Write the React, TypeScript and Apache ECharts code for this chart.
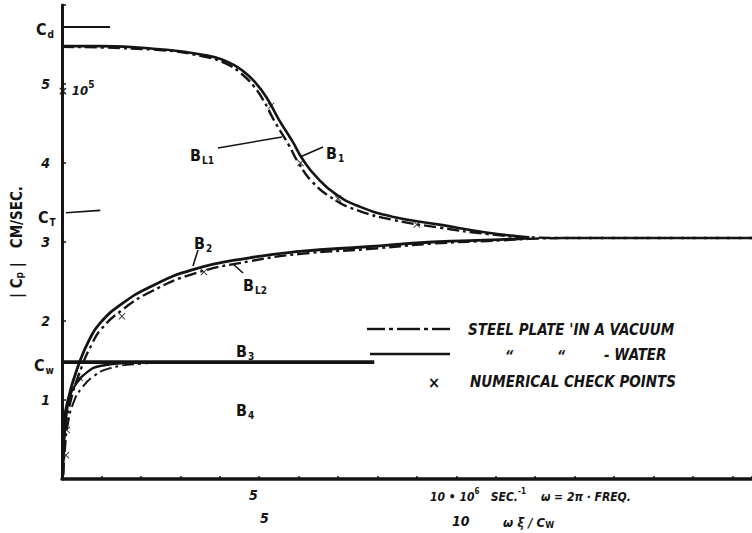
import React, { useEffect, useRef } from "react";
import * as echarts from "echarts";

// ---- data (x: frequency scale units, y: |Cp| in 10^5 cm/sec) ----
const B1_WATER: number[][] = [
  [0, 5.48], [1.0, 5.48], [2.48, 5.44], [3.57, 5.37], [4.2, 5.28], [4.6, 5.16], [4.9, 5.02],
  [5.2, 4.82], [5.5, 4.55], [5.85, 4.27], [6.1, 4.05], [6.46, 3.82], [6.96, 3.6],
  [7.54, 3.45], [8.38, 3.32], [9.57, 3.22], [10.76, 3.12], [11.6, 3.07], [11.85, 3.06],
];
const BL1_VACUUM: number[][] = [
  [0, 5.47], [2.48, 5.43], [3.57, 5.35], [4.15, 5.26], [4.55, 5.13], [4.85, 4.98], [5.1, 4.8],
  [5.4, 4.52], [5.75, 4.23], [6.0, 4.0], [6.35, 3.76], [6.9, 3.54], [7.5, 3.4],
  [8.4, 3.28], [9.6, 3.18], [10.8, 3.1], [11.85, 3.06], [13, 3.05], [15, 3.05], [17.5, 3.05],
];
const B2_WATER: number[][] = [
  [0.02, 0.05], [0.05, 0.62], [0.15, 1.0], [0.46, 1.5], [0.71, 1.78], [0.96, 1.97],
  [1.47, 2.2], [2.23, 2.43], [3.32, 2.65], [4.76, 2.8], [6.03, 2.88], [7.72, 2.94],
  [9.39, 3.0], [11.1, 3.03], [11.85, 3.05],
];
const BL2_VACUUM: number[][] = [
  [0.03, 0.05], [0.08, 0.55], [0.2, 0.95], [0.5, 1.42], [0.75, 1.7], [1.0, 1.9],
  [1.5, 2.13], [2.25, 2.37], [3.35, 2.6], [4.8, 2.76], [6.05, 2.85], [7.75, 2.91],
  [9.4, 2.98], [11.1, 3.02], [11.85, 3.04], [13, 3.05], [15, 3.05], [17.5, 3.05],
];
const B3_WATER: number[][] = [[0, 1.48], [7.92, 1.48]];
const B4_WATER: number[][] = [
  [0.02, 0.05], [0.05, 0.4], [0.1, 0.75], [0.2, 1.05], [0.38, 1.22], [0.63, 1.35],
  [0.96, 1.43], [1.72, 1.47], [3.0, 1.48],
];
const BL4_VACUUM: number[][] = [
  [0.03, 0.05], [0.08, 0.4], [0.15, 0.7], [0.3, 0.98], [0.5, 1.15], [0.8, 1.3],
  [1.2, 1.4], [2.0, 1.46], [3.0, 1.48],
];
const CHECK_POINTS: number[][] = [
  [0.1, 0.3], [0.12, 0.62], [0.45, 1.28], [1.52, 2.06], [3.6, 2.62],
  [5.3, 4.72], [6.05, 4.0], [7.0, 3.55], [9.0, 3.22],
];
const CD_LINE: number[][] = [[0, 5.72], [1.22, 5.72]];
const CT_LINE: number[][] = [[0.1, 3.37], [0.97, 3.4]];
const Y_TICK_LABELS = [1, 2, 3, 4, 5];

const INK = "#141414";
const FONT = "'DejaVu Sans Condensed', 'DejaVu Sans', sans-serif";
const DASHDOT = [12, 4, 3, 4];

const txt = (x: number, y: number, text: string, size = 14, extra: any = {}) => ({
  type: "text",
  x,
  y,
  style: {
    text,
    fill: INK,
    font: `italic bold ${size}px ${FONT}`,
    textVerticalAlign: "middle",
    ...extra,
  },
});

const subLabel = (x: number, y: number, main: string, sub: string) => ({
  type: "text",
  x,
  y,
  style: {
    text: `{b|${main}}{s|${sub}}`,
    fill: INK,
    textVerticalAlign: "middle",
    rich: {
      b: { fontSize: 16, fontFamily: FONT, fontWeight: "bold", fill: INK, lineHeight: 22, verticalAlign: "bottom" },
      s: { fontSize: 10, fontFamily: FONT, fontWeight: "bold", fill: INK, verticalAlign: "bottom", padding: [0, 0, -2, 1] },
    },
  },
});

const ln = (x1: number, y1: number, x2: number, y2: number, w = 1.6) => ({
  type: "line",
  shape: { x1, y1, x2, y2 },
  style: { stroke: INK, lineWidth: w },
});

export default function App() {
  const ref = useRef<HTMLDivElement>(null);
  useEffect(() => {
    if (!ref.current) return;
    const chart = echarts.init(ref.current, undefined, { renderer: "svg" });
    const lineSeries = (name: string, data: number[][], dashed: boolean, width: number) => ({
      name,
      type: "line",
      data,
      smooth: 0.5,
      showSymbol: false,
      symbol: "none",
      lineStyle: { color: INK, width, type: dashed ? DASHDOT : "solid" },
      z: dashed ? 3 : 4,
    });
    chart.setOption({
      animation: false,
      backgroundColor: "#ffffff",
      grid: { left: 62, right: 0, top: 5, bottom: 54 },
      xAxis: {
        type: "value",
        min: 0,
        max: 17.5,
        interval: 1,
        axisLine: { onZero: false, lineStyle: { color: INK, width: 3.5 } },
        axisTick: { inside: true, length: 3, lineStyle: { color: INK, width: 1.5 } },
        axisLabel: { show: false },
        splitLine: { show: false },
      },
      yAxis: {
        type: "value",
        min: 0,
        max: 6,
        interval: 1,
        name: "{a|| C}{p|p}{a| |   CM/SEC.}",
        nameLocation: "middle",
        nameGap: 38,
        nameRotate: 90,
        nameTextStyle: {
          rich: {
            a: { fontSize: 15, fontFamily: FONT, fontWeight: "bold", color: INK },
            p: { fontSize: 10, fontFamily: FONT, fontWeight: "bold", color: INK, verticalAlign: "bottom" },
          },
        },
        axisLine: { show: true, lineStyle: { color: INK, width: 3 } },
        axisTick: { inside: true, length: 4, lineStyle: { color: INK, width: 1.5 } },
        axisLabel: {
          margin: 12,
          color: INK,
          fontFamily: FONT,
          fontStyle: "italic",
          fontWeight: "bold",
          fontSize: 14,
          formatter: (v: number) => (Y_TICK_LABELS.includes(v) ? String(v) : ""),
        },
        splitLine: { show: false },
      },
      series: [
        lineSeries("B1", B1_WATER, false, 2.6),
        lineSeries("BL1", BL1_VACUUM, true, 2.4),
        lineSeries("B2", B2_WATER, false, 2.8),
        lineSeries("BL2", BL2_VACUUM, true, 2.4),
        lineSeries("B3", B3_WATER, false, 3.6),
        lineSeries("B4", B4_WATER, false, 2.4),
        lineSeries("BL4", BL4_VACUUM, true, 2.0),
        { ...lineSeries("Cd", CD_LINE, false, 2), smooth: false },
        { ...lineSeries("CT", CT_LINE, false, 1.6), smooth: false },
        {
          name: "check",
          type: "scatter",
          data: CHECK_POINTS,
          symbol: "path://M0,1L1,0L5,4L9,0L10,1L6,5L10,9L9,10L5,6L1,10L0,9L4,5Z",
          symbolSize: 7,
          itemStyle: { color: INK },
          z: 5,
        },
      ],
      graphic: [
        // y-axis side markers
        subLabel(36, 26, "C", "d"),
        subLabel(38, 214, "C", "T"),
        subLabel(34, 362, "C", "w"),
        {
          type: "text",
          x: 58,
          y: 88,
          style: {
            text: "{a|× 10}{s|5}",
            textVerticalAlign: "middle",
            rich: {
              a: { fontSize: 13, fontFamily: FONT, fontStyle: "italic", fontWeight: "bold", fill: INK, lineHeight: 18, verticalAlign: "bottom" },
              s: { fontSize: 10, fontFamily: FONT, fontWeight: "bold", fill: INK, verticalAlign: "top" },
            },
          },
        },
        // curve labels
        subLabel(190, 152, "B", "L1"),
        ln(218, 148, 282, 137),
        subLabel(326, 150, "B", "1"),
        ln(323, 147, 300, 157),
        subLabel(194, 240, "B", "2"),
        ln(198, 250, 193, 266),
        subLabel(243, 282, "B", "L2"),
        ln(243, 273, 233, 264),
        subLabel(236, 348, "B", "3"),
        subLabel(236, 407, "B", "4"),
        // legend
        ln(367, 329, 385, 329, 2.4),
        ln(389, 329, 393, 329, 2.4),
        ln(397, 329, 420, 329, 2.4),
        ln(424, 329, 428, 329, 2.4),
        ln(432, 329, 450, 329, 2.4),
        txt(468, 330, "STEEL PLATE 'IN A VACUUM", 15),
        ln(370, 354, 450, 354, 2.6),
        txt(505, 355, "\u201C", 14),
        txt(557, 355, "\u201C", 14),
        txt(604, 355, "- WATER", 15),
        txt(428, 382, "×", 16),
        txt(470, 382, "NUMERICAL CHECK POINTS", 15),
        // x-axis labels
        txt(249, 495, "5", 14),
        {
          type: "text",
          x: 430,
          y: 495,
          style: {
            text: "{a|10 • 10}{s|6}{a|   SEC.}{s|-1}{a|    ω = 2π · FREQ.}",
            textVerticalAlign: "middle",
            rich: {
              a: { fontSize: 12, fontFamily: FONT, fontStyle: "italic", fontWeight: "bold", fill: INK, lineHeight: 16, verticalAlign: "bottom" },
              s: { fontSize: 8, fontFamily: FONT, fontWeight: "bold", fill: INK, verticalAlign: "top" },
            },
          },
        },
        txt(260, 518, "5", 14),
        txt(452, 521, "10", 14),
        {
          type: "text",
          x: 503,
          y: 520,
          style: {
            text: "{a|ω ξ / C}{s|W}",
            textVerticalAlign: "middle",
            rich: {
              a: { fontSize: 13, fontFamily: FONT, fontStyle: "italic", fontWeight: "bold", fill: INK, lineHeight: 18, verticalAlign: "bottom" },
              s: { fontSize: 9, fontFamily: FONT, fontWeight: "bold", fill: INK, verticalAlign: "bottom" },
            },
          },
        },
      ],
    });
    return () => chart.dispose();
  }, []);
  return (
    <div
      ref={ref}
      style={{ position: "fixed", left: 0, top: 0, width: 752, height: 533, background: "#fff" }}
    />
  );
}
